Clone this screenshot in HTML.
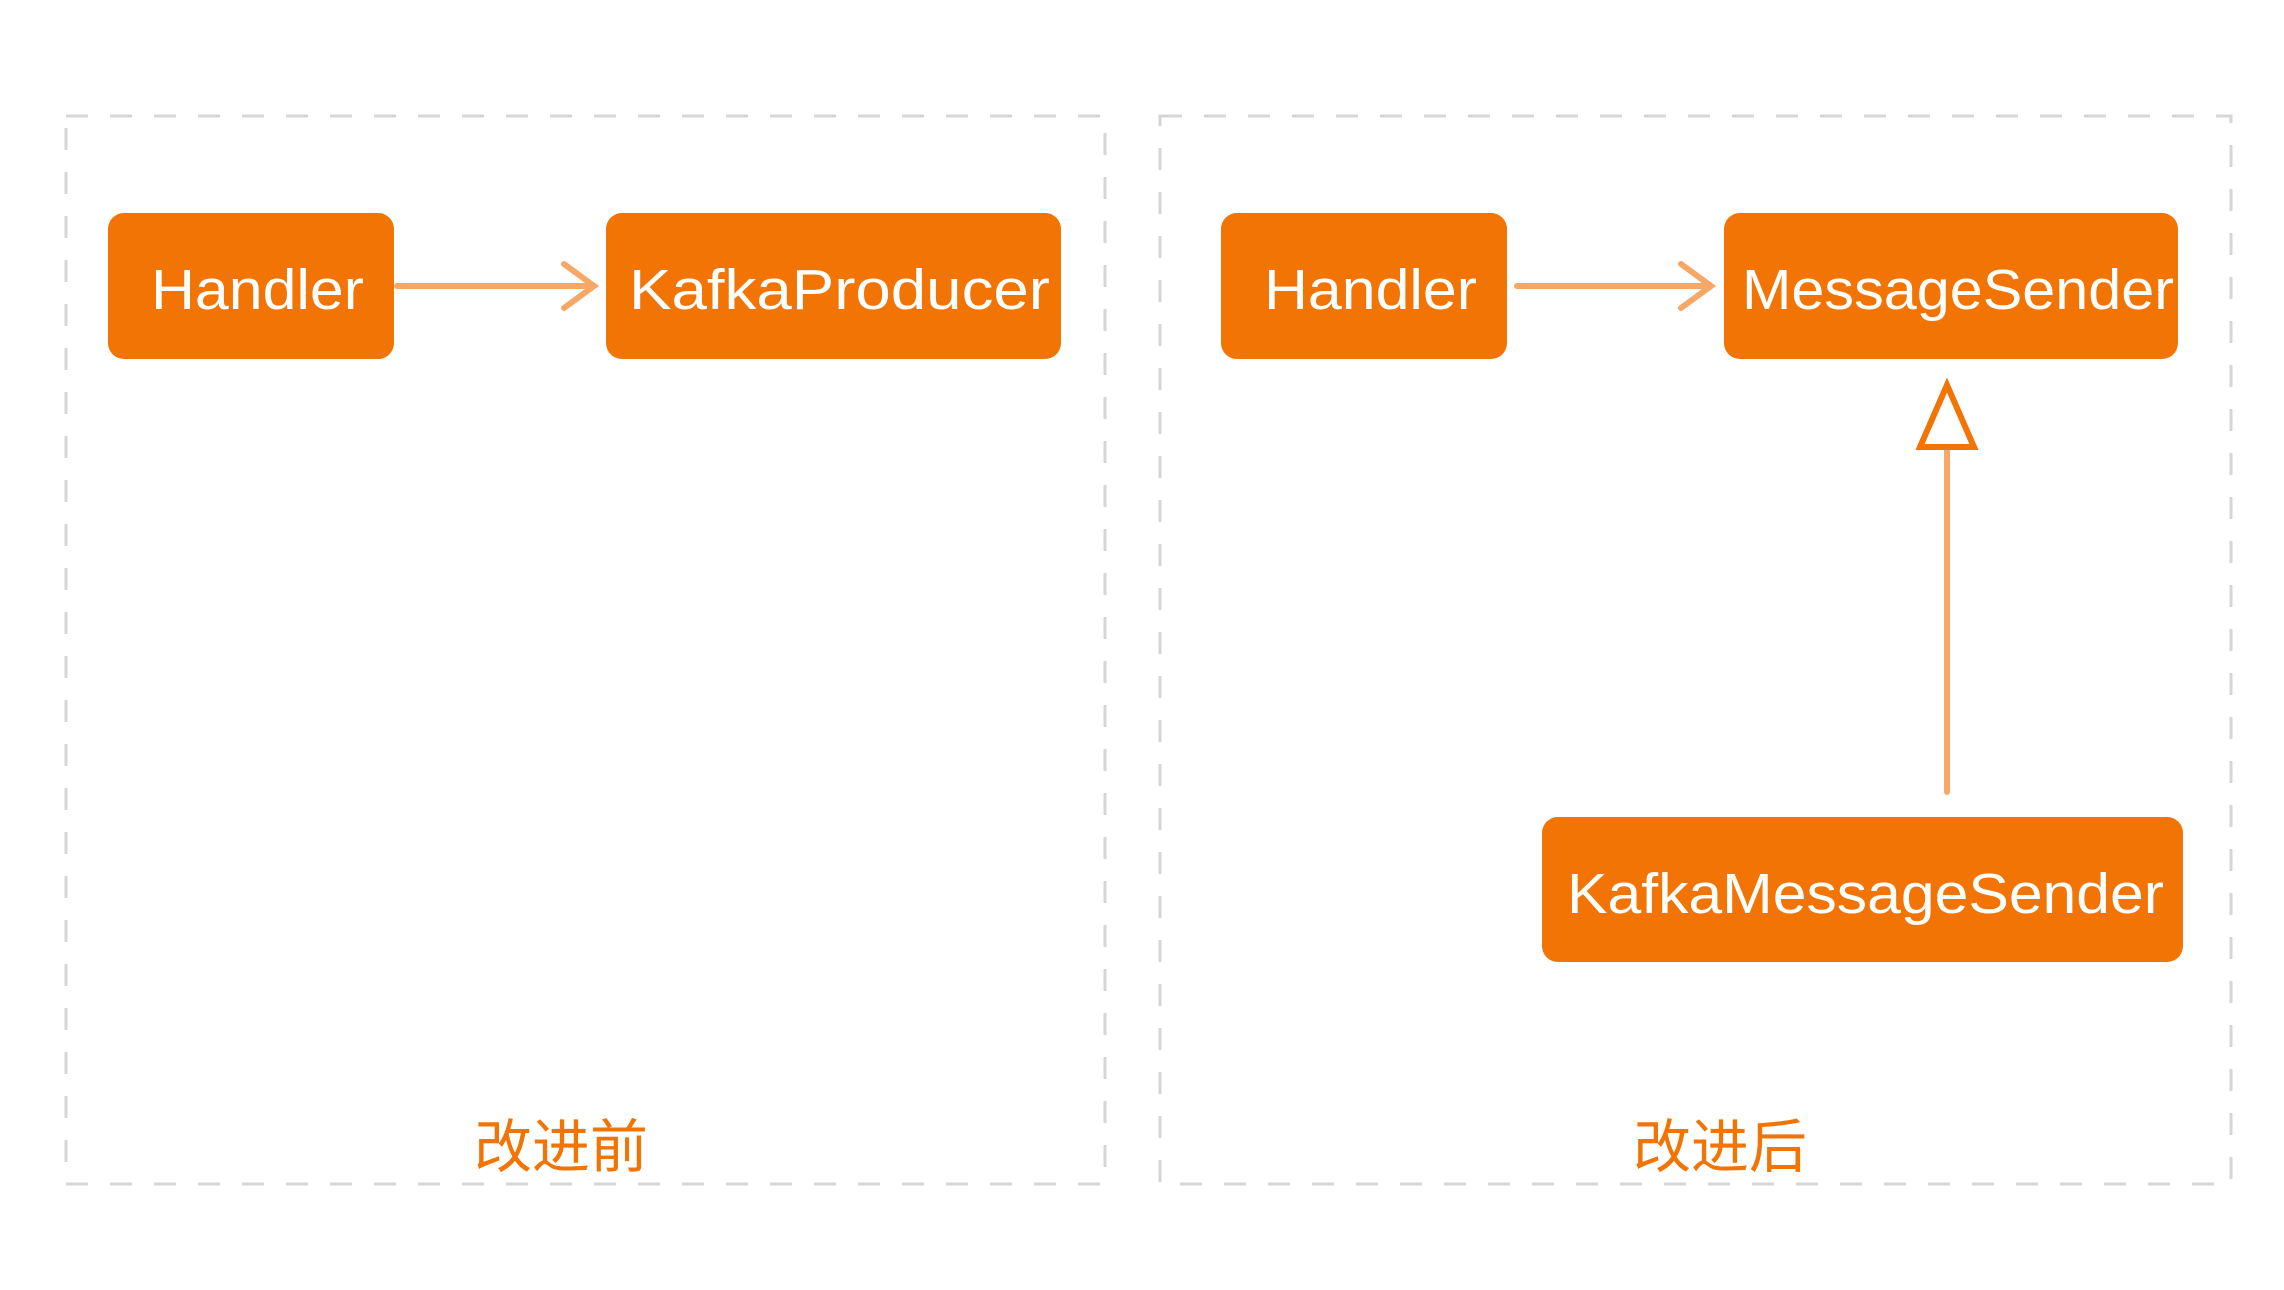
<!DOCTYPE html>
<html><head><meta charset="utf-8"><style>html,body{margin:0;padding:0;background:#fff}</style></head>
<body>
<svg width="2284" height="1285" viewBox="0 0 2284 1285" xmlns="http://www.w3.org/2000/svg">
<rect width="2284" height="1285" fill="#fff"/>
<g fill="none" stroke="#d6d6d6" stroke-width="3" stroke-dasharray="22 22">
<rect x="66" y="116" width="1039" height="1068"/>
<rect x="1160" y="116" width="1071" height="1068"/>
</g>
<g fill="#f27405">
<rect x="108" y="213" width="286" height="146" rx="16"/>
<rect x="606" y="213" width="455" height="146" rx="16"/>
<rect x="1221" y="213" width="286" height="146" rx="16"/>
<rect x="1724" y="213" width="454" height="146" rx="16"/>
<rect x="1542" y="817" width="641" height="145" rx="16"/>
</g>
<g stroke="#f7a866" stroke-width="6" fill="none" stroke-linecap="round">
<line x1="397" y1="286" x2="593" y2="286"/>
<polyline points="564,264 594,286 564,308"/>
<line x1="1517" y1="286" x2="1710" y2="286"/>
<polyline points="1681,264 1711,286 1681,308"/>
<line x1="1947" y1="450" x2="1947" y2="792"/>
</g>
<polygon points="1947,385 1920,447 1974,447" fill="#fff" stroke="#f27405" stroke-width="6" stroke-linejoin="miter"/>
<g fill="#fff" font-family="Liberation Sans, sans-serif" font-size="57">
<text x="151" y="309" textLength="213" lengthAdjust="spacingAndGlyphs">Handler</text>
<text x="629" y="309" textLength="421" lengthAdjust="spacingAndGlyphs">KafkaProducer</text>
<text x="1264" y="309" textLength="213" lengthAdjust="spacingAndGlyphs">Handler</text>
<text x="1742" y="309" textLength="432" lengthAdjust="spacingAndGlyphs">MessageSender</text>
<text x="1567" y="913" textLength="597" lengthAdjust="spacingAndGlyphs">KafkaMessageSender</text>
</g>
<g fill="#f27405" font-family="Liberation Sans, Noto Sans CJK SC, sans-serif" font-size="58" text-anchor="middle">
<text x="561" y="1167">改进前</text>
<text x="1720" y="1167">改进后</text>
</g>
</svg>
</body></html>
